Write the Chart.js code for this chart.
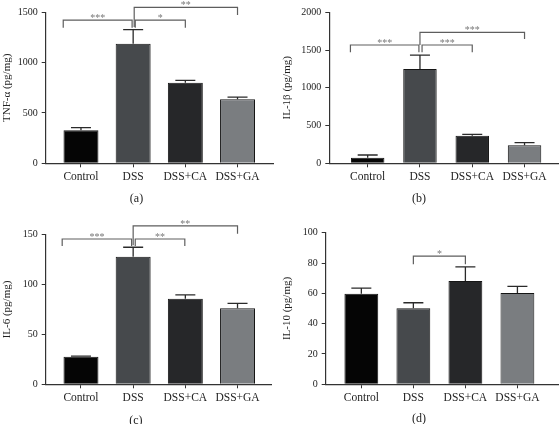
<!DOCTYPE html>
<html>
<head>
<meta charset="utf-8">
<script src="https://cdn.jsdelivr.net/npm/chart.js@4.4.1/dist/chart.umd.min.js"></script>
<style>
  html, body { margin: 0; padding: 0; background: #fff; overflow: hidden; width: 559px; height: 424px; }
  .panel { position: absolute; }
</style>
</head>
<body>
<div class="panel" style="left:0;top:0;width:279px;height:212px"><canvas id="chartA"></canvas></div>
<div class="panel" style="left:280px;top:0;width:279px;height:212px"><canvas id="chartB"></canvas></div>
<div class="panel" style="left:0;top:212px;width:279px;height:222px"><canvas id="chartC"></canvas></div>
<div class="panel" style="left:280px;top:212px;width:279px;height:222px"><canvas id="chartD"></canvas></div>
<script>
// groups on the x axis
const groups = ['Control', 'DSS', 'DSS+CA', 'DSS+GA'];

// mean and SEM for each cytokine (pg/mg)
const tnfMean = [328, 1188, 800, 636];
const tnfSem = [26, 139, 24, 22];
const il1bMean = [74, 1249, 366, 238];
const il1bSem = [36, 185, 18, 35];
const il6Mean = [27.7, 128, 85.9, 76.2];
const il6Sem = [0.5, 9.4, 3.7, 5.0];
const il10Mean = [59.8, 50.1, 68.1, 60.2];
const il10Sem = [3.7, 3.7, 9.3, 4.4];

// y axis ranges and tick steps
const yMaxes = [1500, 2000, 150, 100];
const ySteps = [500, 500, 50, 20];

// significance brackets: from / to (group position), bar level, leg ends, stars
const tnfBrackets = {
  from: [0.66, 2.04, 2.02], to: [1.98, 3, 4],
  level: [1423, 1423, 1549], legLeft: [1347, 1347, 1354], legRight: [1347, 1347, 1473],
  stars: ['***', '*', '**']
};
const il1bBrackets = {
  from: [0.67, 2.04, 2.0], to: [1.98, 3, 4],
  level: [1567, 1567, 1735], legLeft: [1470, 1470, 1567], legRight: [1470, 1470, 1646],
  stars: ['***', '***', '***']
};
const il6Brackets = {
  from: [0.64, 2.04, 2.0], to: [1.97, 2.99, 4],
  level: [145.7, 145.7, 158.8], legLeft: [138.7, 138.7, 139.5], legRight: [138.7, 138.7, 151],
  stars: ['***', '**', '**']
};
const il10Brackets = {
  from: [2.0], to: [3.0],
  level: [84.6], legLeft: [79.2], legRight: [79.2],
  stars: ['*']
};

const barColors = ['#050505', '#46494c', '#262729', '#7a7d80'];
const serif = "'Liberation Serif', 'DejaVu Serif', serif";

function makePanel(canvasId, p) {
  const titleBox = 4 + 12 * 1.2 + p.titlePad;
  const xAxisHeight = p.height - titleBox - p.bottom;

  // error bars (upper half) and significance brackets
  const annotate = {
    id: 'annotate',
    afterDatasetsDraw(chart) {
      const ctx = chart.ctx;
      const xs = chart.scales.x, ys = chart.scales.y;
      const meta = chart.getDatasetMeta(0);
      ctx.save();
      ctx.strokeStyle = '#2a2a2a';
      ctx.lineWidth = 1.3;
      meta.data.forEach((bar, i) => {
        const top = ys.getPixelForValue(p.mean[i] + p.sem[i]);
        ctx.beginPath();
        ctx.moveTo(bar.x, bar.y);
        ctx.lineTo(bar.x, top);
        ctx.moveTo(bar.x - 10, top);
        ctx.lineTo(bar.x + 10, top);
        ctx.stroke();
      });

      const b = p.brackets;
      ctx.strokeStyle = '#5e5e5e';
      ctx.lineWidth = 1.2;
      ctx.fillStyle = '#777';
      ctx.font = '10px ' + serif;
      ctx.textAlign = 'center';
      ctx.textBaseline = 'alphabetic';
      b.from.forEach((f, i) => {
        const x1 = xs.getPixelForValue(f), x2 = xs.getPixelForValue(b.to[i]);
        const yl = ys.getPixelForValue(b.level[i]);
        ctx.beginPath();
        ctx.moveTo(x1, ys.getPixelForValue(b.legLeft[i]));
        ctx.lineTo(x1, yl);
        ctx.lineTo(x2, yl);
        ctx.lineTo(x2, ys.getPixelForValue(b.legRight[i]));
        ctx.stroke();
        ctx.fillText(b.stars[i], (x1 + x2) / 2, yl + 1);
      });
      ctx.restore();
    }
  };

  return new Chart(document.getElementById(canvasId), {
    type: 'bar',
    data: {
      datasets: [{
        data: p.mean.map((v, i) => ({ x: i + 1, y: v })),
        backgroundColor: barColors,
        borderColor: '#151515',
        borderWidth: 1,
        barPercentage: p.barPct,
        categoryPercentage: 1
      }]
    },
    options: {
      responsive: true,
      maintainAspectRatio: false,
      animation: false,
      devicePixelRatio: 1,
      layout: { padding: { top: p.top, right: p.width - p.right, left: 0, bottom: 0 } },
      plugins: {
        legend: { display: false },
        tooltip: { enabled: false },
        title: {
          display: true,
          position: 'bottom',
          text: p.letter,
          color: '#222',
          font: { family: serif, size: 12, weight: 'normal' },
          padding: { top: 4, bottom: p.titlePad }
        }
      },
      scales: {
        x: {
          type: 'linear',
          offset: false,
          min: p.xMin,
          max: p.xMax,
          afterBuildTicks: (axis) => { axis.ticks = groups.map((g, i) => ({ value: i + 1 })); },
          afterFit: (axis) => { axis.height = xAxisHeight; },
          ticks: {
            callback: (v) => groups[v - 1],
            color: '#222',
            font: { family: serif, size: 11.5 },
            padding: 3,
            maxRotation: 0
          },
          grid: { offset: false, drawOnChartArea: false, drawTicks: true, tickLength: 4, color: '#333', lineWidth: 1 },
          border: { display: true, color: '#333', width: 1.2 }
        },
        y: {
          min: 0,
          max: p.yMax,
          afterFit: (axis) => { axis.width = p.left; },
          ticks: {
            stepSize: p.yStep,
            callback: (v) => String(v),
            color: '#222',
            font: { family: serif, size: 10 },
            padding: 4
          },
          grid: { drawOnChartArea: false, drawTicks: true, tickLength: 4, color: '#333', lineWidth: 1 },
          border: { display: true, color: '#333', width: 1.2 },
          title: {
            display: true,
            text: p.yTitle,
            color: '#222',
            font: { family: serif, size: 11 },
            padding: { top: 1, bottom: 2 }
          }
        }
      }
    },
    plugins: [annotate]
  });
}

makePanel('chartA', {
  mean: tnfMean, sem: tnfSem, brackets: tnfBrackets, yMax: yMaxes[0], yStep: ySteps[0],
  yTitle: 'TNF-α (pg/mg)', letter: '(a)',
  width: 279, height: 212, left: 45.7, right: 273, top: 12.3, bottom: 163.3, titlePad: 5.5,
  xMin: 0.324, xMax: 4.68, barPct: 0.67
});
makePanel('chartB', {
  mean: il1bMean, sem: il1bSem, brackets: il1bBrackets, yMax: yMaxes[1], yStep: ySteps[1],
  yTitle: 'IL-1β (pg/mg)', letter: '(b)',
  width: 279, height: 212, left: 49.3, right: 278, top: 12.3, bottom: 163.3, titlePad: 5.8,
  xMin: 0.266, xMax: 4.64, barPct: 0.64
});
makePanel('chartC', {
  mean: il6Mean, sem: il6Sem, brackets: il6Brackets, yMax: yMaxes[2], yStep: ySteps[2],
  yTitle: 'IL-6 (pg/mg)', letter: '(c)',
  width: 279, height: 222, left: 45.7, right: 271.7, top: 22.7, bottom: 172.3, titlePad: 5.5,
  xMin: 0.324, xMax: 4.655, barPct: 0.67
});
makePanel('chartD', {
  mean: il10Mean, sem: il10Sem, brackets: il10Brackets, yMax: yMaxes[3], yStep: ySteps[3],
  yTitle: 'IL-10 (pg/mg)', letter: '(d)',
  width: 279, height: 222, left: 45.7, right: 278, top: 20.7, bottom: 172.3, titlePad: 7.5,
  xMin: 0.315, xMax: 4.78, barPct: 0.65
});
</script>
</body>
</html>
